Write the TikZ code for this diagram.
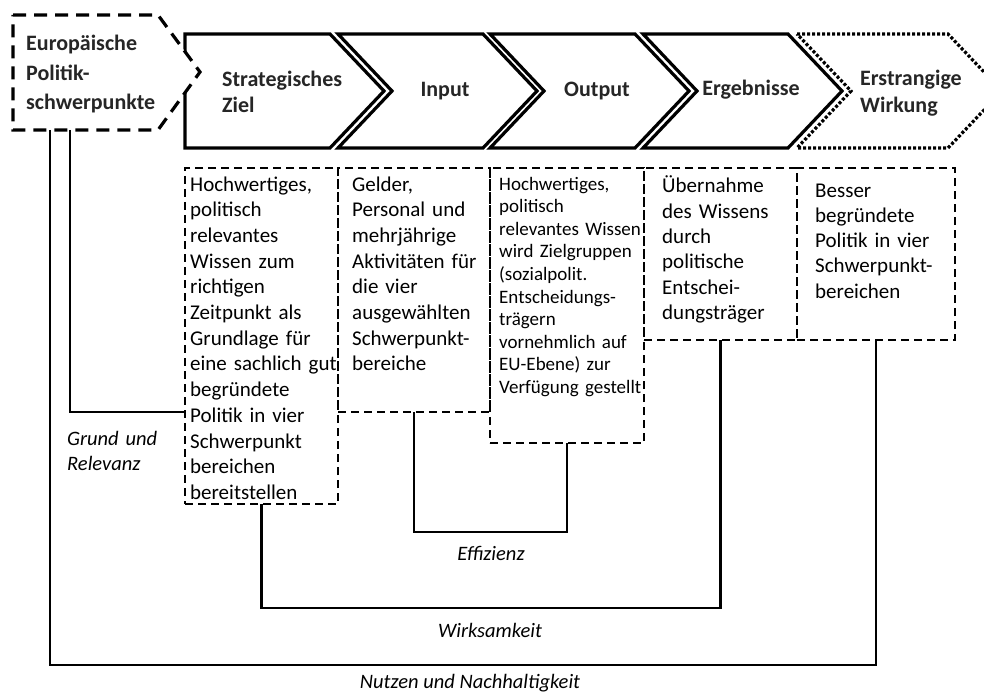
\documentclass[tikz,border=0pt]{standalone}
\usepackage{fontspec}
\setmainfont{Carlito}
\begin{document}
\begin{tikzpicture}[x=1pt,y=-1pt,
  chev/.style={draw=black, line width=3.2pt, fill=white, line join=miter},
  chevdot/.style={draw=black, line width=3.2pt, fill=white, dash pattern=on 3pt off 2pt},
  eubox/.style={draw=black, line width=3.2pt, fill=white, dash pattern=on 13pt off 8pt},
  lbox/.style={draw=black, line width=2.6pt, dash pattern=on 8pt off 5pt, inner sep=0pt, outer sep=0pt, anchor=north west},
  conn/.style={draw=black, line width=2.6pt},
  head/.style={font=\fontsize{22}{27}\selectfont\bfseries, text=black!85, inner sep=0pt, anchor=base west, text width=150pt, align=left},
  headc/.style={font=\fontsize{22}{27}\selectfont\bfseries, text=black!85, inner sep=0pt, anchor=base},
  body/.style={font=\fontsize{21}{25.7}\selectfont, inner sep=0pt, anchor=base west, text width=165pt, align=left},
  bodys/.style={font=\fontsize{19}{22.6}\selectfont, inner sep=0pt, anchor=base west, text width=165pt, align=left},
  lab/.style={font=\fontsize{20.5}{25}\selectfont\itshape, inner sep=0pt, anchor=base},
]
\useasboundingbox (0,0) rectangle (984,695);

% chevrons
\path[chev] (185,34) -- (330,34) -- (384,91) -- (330,148) -- (185,148) -- cycle;
\path[chev] (338,34) -- (483,34) -- (537,91) -- (483,148) -- (338,148) -- (392,91) -- cycle;
\path[chev] (490,34) -- (635,34) -- (689,91) -- (635,148) -- (490,148) -- (544,91) -- cycle;
\path[chev] (643,34) -- (788,34) -- (842,91) -- (788,148) -- (643,148) -- (697,91) -- cycle;
\begin{scope}
\clip (0,0) rectangle (984,695);
\path[chevdot] (797,34) -- (948,34) -- (1002,91) -- (948,148) -- (797,148) -- (851,91) -- cycle;
\end{scope}

% European box
\path[eubox] (13,15) -- (158,15) -- (200,72) -- (158,130) -- (13,130) -- cycle;
\coordinate (euA) at (70,130);
\coordinate (euB) at (50,130);

% header texts
\node[head, font=\fontsize{22}{29.4}\selectfont\bfseries] (hEU) at (26,50.7) {Europäische\\Politik-\\schwerpunkte};
\node[head, font=\fontsize{22}{26}\selectfont\bfseries] (hSZ) at (222,87) {Strategisches\\Ziel};
\node[headc] (hIn) at (445,97) {Input};
\node[headc] (hOut) at (597,97) {Output};
\node[headc] (hErg) at (751,96) {Ergebnisse};
\node[head] (hWi) at (860,86) {Erstrangige\\Wirkung};

% lower boxes
\node[lbox, minimum width=153pt, minimum height=336pt] (b1) at (185,168) {};
\node[lbox, minimum width=152pt, minimum height=244pt] (b2) at (338,168) {};
\node[lbox, minimum width=154pt, minimum height=275pt] (b3) at (490,168) {};
\node[lbox, minimum width=153pt, minimum height=172pt] (b4) at (644,168) {};
\node[lbox, minimum width=158pt, minimum height=172pt] (b5) at (797,168) {};

% box texts
\begin{scope}
\clip (185,168) rectangle (338,503);
\node[body] (t1) at (190,191) {Hochwertiges,\\politisch\\relevantes\\Wissen zum\\richtigen\\Zeitpunkt als\\Grundlage für\\eine sachlich gut\\begründete\\Politik in vier\\Schwerpunkt\\bereichen\\bereitstellen};
\end{scope}
\node[body] (t2) at (352,191) {Gelder,\\Personal und\\mehrjährige\\Aktivitäten für\\die vier\\ausgewählten\\Schwerpunkt-\\bereiche};
\node[bodys] (t3) at (499,190) {Hochwertiges,\\politisch\\relevantes Wissen\\wird Zielgruppen\\(sozialpolit.\\Entscheidungs-\\trägern\\vornehmlich auf\\EU-Ebene) zur\\Verfügung gestellt};
\node[body, font=\fontsize{21}{25.3}\selectfont] (t4) at (662,193) {Übernahme\\des Wissens\\durch\\politische\\Entschei-\\dungsträger};
\node[body, font=\fontsize{21}{25.3}\selectfont] (t5) at (815,197) {Besser\\begründete\\Politik in vier\\Schwerpunkt-\\bereichen};

% connectors
\coordinate (grundEnd) at (185,412);
\draw[conn] (euA) |- (grundEnd);
\draw[conn] (b2.south) -- ++(0,120) -| (b3.south);
\draw[conn] (b1.south) -- ++(0,104) -| (b4.south);
\draw[conn] (euB) -- ++(0,535) -| (b5.south);

% labels
\node[lab, anchor=base west, text width=120pt, align=left] (lGR) at (67,445) {Grund und\\Relevanz};
\node[lab] (lEff) at (491,560) {Effizienz};
\node[lab] (lWirk) at (490,637) {Wirksamkeit};
\node[lab] (lNutz) at (470,688) {Nutzen und Nachhaltigkeit};
\end{tikzpicture}
\end{document}
